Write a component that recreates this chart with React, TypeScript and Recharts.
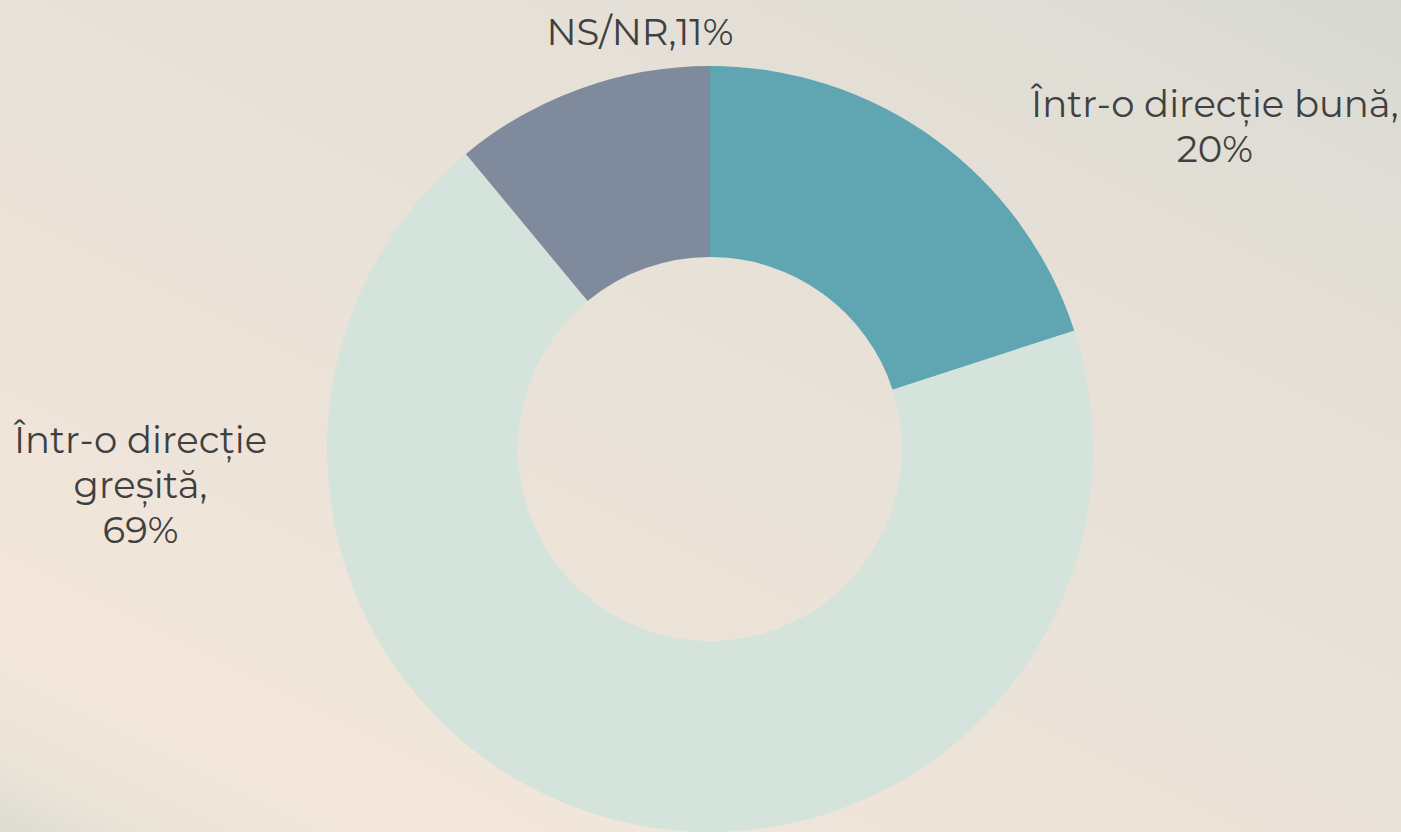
import React from "react";
import { PieChart, Pie, Cell } from "recharts";

const categories = ["Într-o direcție bună", "Într-o direcție greșită", "NS/NR"];
const values = [20, 69, 11];
const labelLines = [
  ["Într-o direcție bună,", "20%"],
  ["Într-o direcție", "greșită,", "69%"],
  ["NS/NR,11%"],
];

const COLORS = ["#5fa5b2", "#d4e3dc", "#7f8a9d"];
// label anchor offsets relative to the pie centre, in units of outer radius
const LABEL_POS: [number, number][] = [
  [1.318, -0.845],
  [-1.487, 0.092],
  [-0.183, -1.092],
];

const data = categories.map((name, i) => ({ name, value: values[i] }));

const W = 1401;
const H = 832;
const FONT = "Montserrat, 'Open Sans', 'Noto Sans', sans-serif";

const renderLabel = (props: any) => {
  const { cx, cy, outerRadius, index } = props;
  const [ox, oy] = LABEL_POS[index];
  const lines = labelLines[index];
  const lh = 45;
  const x = cx + ox * outerRadius;
  const yMid = cy + oy * outerRadius;
  const y0 = yMid - ((lines.length - 1) * lh) / 2;
  return (
    <text
      x={x}
      y={y0}
      textAnchor="middle"
      dominantBaseline="central"
      fill="#404040"
      fontFamily={FONT}
      fontSize={37}
    >
      {lines.map((l, i) => (
        <tspan key={i} x={x} y={y0 + i * lh} dominantBaseline="central">
          {l}
        </tspan>
      ))}
    </text>
  );
};

export default function App() {
  return (
    <div
      style={{
        width: W,
        height: H,
        position: "relative",
        overflow: "hidden",
        background:
          "linear-gradient(206.6deg, #d6d9d2 0%, #dfddd5 12%, #e6e0d7 30%, #e9e2d8 50%, #eee4d9 70%, #f3e7da 87%, #ece4d8 95%, #dcdbd2 100%)",
      }}
    >
      <style>{"body{margin:0;}"}</style>
      <PieChart width={W} height={H} margin={{ top: 0, right: 0, bottom: 0, left: 0 }}>
        <Pie
          data={data}
          dataKey="value"
          nameKey="name"
          cx={710}
          cy={449}
          innerRadius={192}
          outerRadius={383}
          startAngle={90}
          endAngle={-270}
          stroke="none"
          isAnimationActive={false}
          labelLine={false}
          label={renderLabel}
        >
          {data.map((d, i) => (
            <Cell key={d.name} fill={COLORS[i]} />
          ))}
        </Pie>
      </PieChart>
    </div>
  );
}
